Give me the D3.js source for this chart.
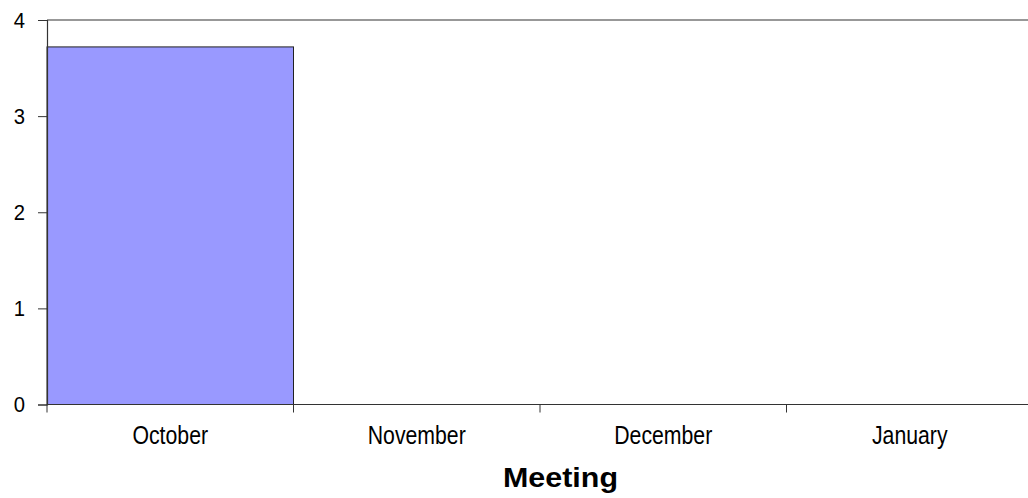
<!DOCTYPE html>
<html>
<head>
<meta charset="utf-8">
<script src="https://cdn.jsdelivr.net/npm/d3@7"></script>
<style>
  html, body { margin: 0; padding: 0; background: #fff; }
  svg { display: block; font-family: Arial, "Liberation Sans", sans-serif; }
</style>
</head>
<body>
<svg id="chart" width="1028" height="498"></svg>
<script>
// Meeting attendance by month
const categories = ["October", "November", "December", "January"];
const values = [3.72, 0, 0, 0];
const yTicks = [0, 1, 2, 3, 4];
const xTitle = "Meeting";

const svg = d3.select("#chart");
const plotLeft = 47, plotRight = 1033, plotTop = 20, plotBottom = 404.5;

const x = d3.scaleBand().domain(categories).range([plotLeft, plotRight]).padding(0);
const y = d3.scaleLinear().domain([0, 4]).range([plotBottom, plotTop]);

// top frame line
svg.append("line")
  .attr("x1", plotLeft).attr("x2", plotRight)
  .attr("y1", y(4)).attr("y2", y(4))
  .attr("stroke", "#333").attr("stroke-width", 1.2);

// bars
svg.selectAll("rect.bar")
  .data(categories.map((c, i) => ({ c, v: values[i] })).filter(d => d.v > 0))
  .join("rect")
  .attr("class", "bar")
  .attr("x", d => x(d.c))
  .attr("y", d => y(d.v))
  .attr("width", x.bandwidth())
  .attr("height", d => y(0) - y(d.v))
  .attr("fill", "#9999FF")
  .attr("stroke", "#222")
  .attr("stroke-width", 1);

// y axis
const yAxis = svg.append("g")
  .attr("transform", `translate(${plotLeft},0)`)
  .call(d3.axisLeft(y).tickValues(yTicks).tickFormat(d3.format("d")).tickSize(9).tickPadding(15));
yAxis.select(".domain").attr("stroke", "#333").attr("stroke-width", 1.2);
yAxis.selectAll(".tick line").attr("stroke", "#333");
yAxis.selectAll(".tick text").attr("font-size", 22).attr("fill", "#000")
  .attr("font-family", "Arial, 'Liberation Sans', sans-serif")
  .attr("transform", "scale(0.92,1)");

// x axis with ticks at band boundaries
const xAxis = svg.append("g").attr("transform", `translate(0,${plotBottom})`);
xAxis.append("line")
  .attr("x1", plotLeft).attr("x2", plotRight)
  .attr("stroke", "#333").attr("stroke-width", 1.2);
xAxis.selectAll("line.tick")
  .data(categories)
  .join("line")
  .attr("class", "tick")
  .attr("x1", d => x(d)).attr("x2", d => x(d))
  .attr("y1", 0).attr("y2", 8)
  .attr("stroke", "#333");
xAxis.selectAll("text.cat")
  .data(categories)
  .join("text")
  .attr("class", "cat")
  .attr("transform", d => `translate(${x(d) + x.bandwidth() / 2},39.5) scale(0.85,1)`)
  .attr("text-anchor", "middle")
  .attr("font-size", 25)
  .text(d => d);

// axis title
svg.append("text")
  .attr("x", 560.5).attr("y", 486.5)
  .attr("text-anchor", "middle")
  .attr("font-size", 27)
  .attr("font-weight", "bold")
  .attr("textLength", 115)
  .attr("lengthAdjust", "spacingAndGlyphs")
  .text(xTitle);
</script>
</body>
</html>
